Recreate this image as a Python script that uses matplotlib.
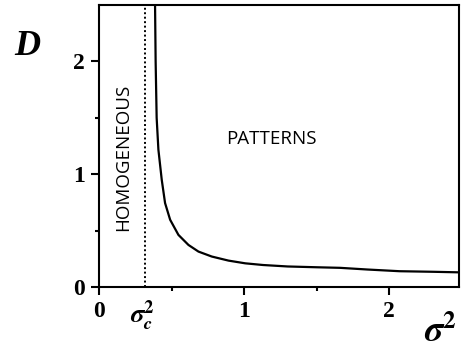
import matplotlib
matplotlib.use("Agg")
import matplotlib.pyplot as plt

# curve
sigma2 = [0.386, 0.39, 0.397, 0.409, 0.432, 0.455, 0.49, 0.547, 0.616, 0.685, 0.777,
          0.892, 1.007, 1.13, 1.3, 1.5, 1.66, 1.85, 2.07, 2.3, 2.48]
D = [2.5, 2.0, 1.5, 1.218, 0.951, 0.744, 0.596, 0.462, 0.373, 0.314, 0.27,
     0.234, 0.21, 0.195, 0.182, 0.175, 0.17, 0.155, 0.14, 0.135, 0.13]
sigma_c2 = 0.317
x_ticks = [0, 1, 2]
y_ticks = [0, 1, 2]

plt.rcParams['mathtext.fontset'] = 'stix'

fig = plt.figure(figsize=(4.61, 3.56), dpi=100)
ax = fig.add_axes([0.2148, 0.1938, 0.9957 - 0.2148, 0.986 - 0.1938])

ax.plot(sigma2, D, color='black', lw=1.6)
ax.axvline(sigma_c2, color='black', lw=1.4, ls=(0, (1, 1.3)))

ax.set_xlim(0, 2.48)
ax.set_ylim(0, 2.5)
ax.set_xticks(x_ticks)
ax.set_yticks(y_ticks)
ax.set_xticks([0.5, 1.5], minor=True)
ax.set_yticks([0.5, 1.5], minor=True)
ax.tick_params(which='major', direction='out', length=6, width=1.5, pad=4)
ax.tick_params(which='minor', direction='out', length=3, width=1.5)
for s in ax.spines.values():
    s.set_linewidth(1.5)

bold = dict(family='Liberation Serif', weight='bold', size=17)
ax.set_xticklabels([str(v) for v in x_ticks], fontdict=bold)
ax.set_yticklabels([str(v) for v in y_ticks], fontdict=bold)

ax.text(sigma_c2 - 0.02, -0.1, r'$\boldsymbol{\sigma}^{\mathbf{2}}_{\boldsymbol{c}}$',
        ha='center', va='top', fontsize=19)
fig.text(0.955, 0.02, r'$\boldsymbol{\sigma}^{\mathbf{2}}$', ha='center', va='bottom', fontsize=26)
fig.text(0.03, 0.845, 'D', family='Liberation Serif', weight='bold', style='italic', fontsize=26)

ax.text(0.165, 1.15, 'HOMOGENEOUS', rotation=90, ha='center', va='center',
        family='Open Sans', fontsize=13.5)
ax.text(1.19, 1.31, 'PATTERNS', ha='center', va='center', family='Open Sans', fontsize=13.5)

fig.savefig('out.png', dpi=100)
